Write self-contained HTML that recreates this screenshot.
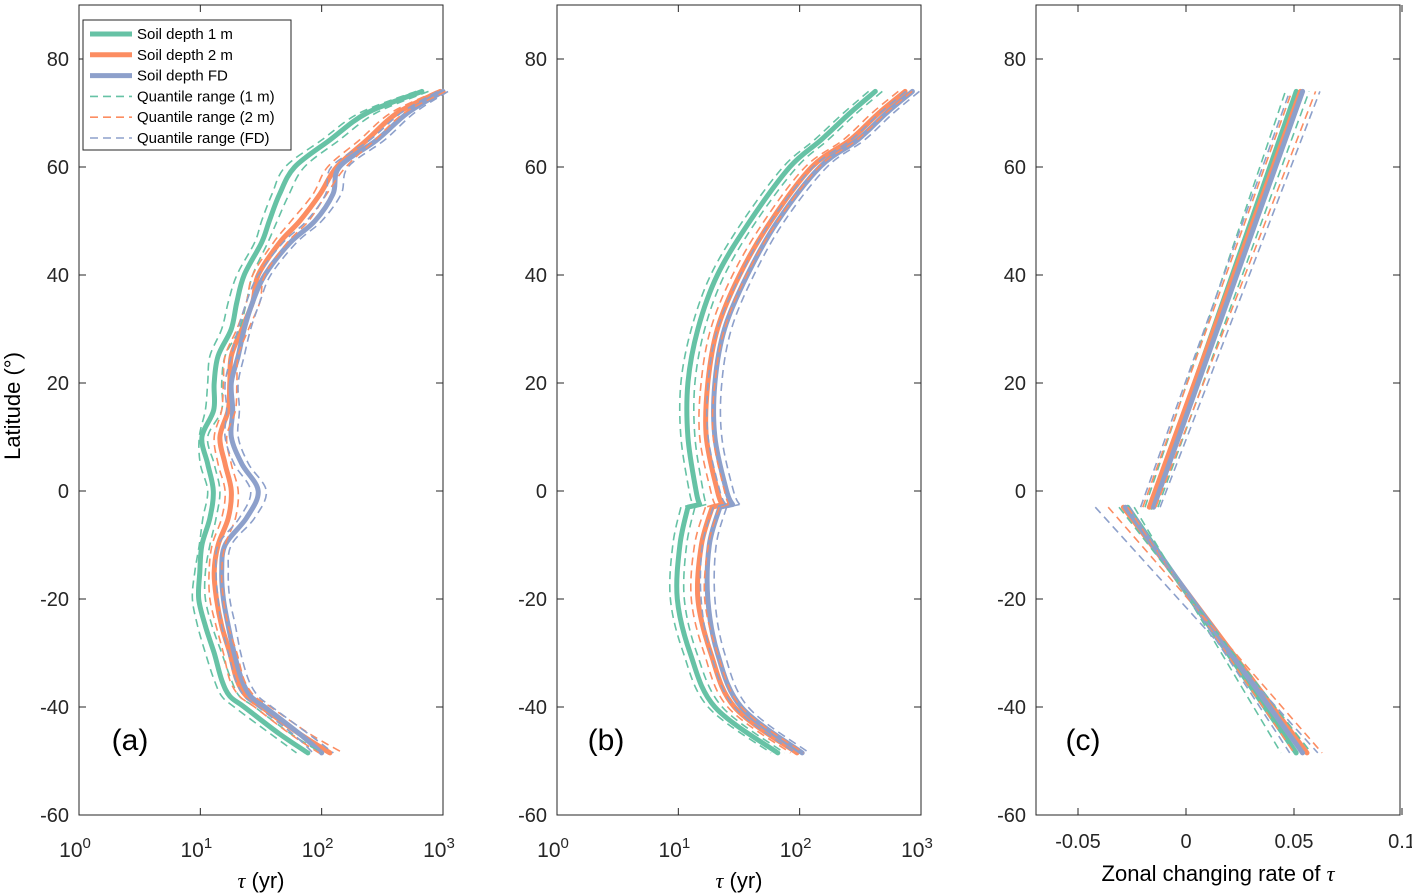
<!DOCTYPE html>
<html><head><meta charset="utf-8">
<style>
body{margin:0;background:#fff;}
svg{display:block;font-family:"Liberation Sans",Helvetica,sans-serif;}
</style></head>
<body>
<svg id="chart" width="1412" height="895" xmlns="http://www.w3.org/2000/svg"></svg>
<script>
// ---- data ----
const latA = [74,70,65,60,55,50,46,40,35,30,25,20,15,10,5,0,-5,-10,-15,-20,-25,-30,-35,-38,-40,-45,-48.5];
const aGreen = [670,236,117,60,45,37,32,23,20,18,14,13,12.9,10.3,11.5,12.8,12,10.3,9.9,9.7,11,13,15,17.5,23,45,77];
const aOrange = [950,420,236,133,97,66,45,30,27,22,18,17.5,17,14.5,16,18,17,14,13,13.6,15,17.5,20,24,32,66,117];
const aBlue = [1000,510,285,140,124,88,55,34,27,23,20.5,18,18.5,18,22,30,24,16,15,15.5,17,19,22,26,34,66,100];
const aGreenLo = [600,205,100,50,39,32,28,20,17,15,12,11.5,11,9.8,10,11.5,10.5,9.8,9,8.6,9.5,11,13,15,19,38,62];
const aGreenHi = [760,280,140,72,54,43,36,27,24,21,16,15,15,11.5,13,14.5,13.5,12,11,11,12.5,15,18,21,28,56,100];
const aOrangeLo = [880,370,205,112,85,56,40,27,24,20,16,15.5,15,13,14,16,15,12.5,11.8,12,13.5,15.5,17.5,21,28,55,95];
const aOrangeHi = [1050,480,275,158,110,78,52,34,31,25,20.5,20,19.5,16.5,18,20.5,19.5,16,15,15.5,17,20,23,28,38,80,150];
const aBlueLo = [900,450,250,120,108,75,48,30,24,20.5,18,16,16.5,16,19,26,21,14,13.5,14,15,17,19.5,23,30,58,85];
const aBlueHi = [1100,580,330,165,145,100,62,38,31,26,23,20.5,21,20.5,25,35,28,18,17,17.5,19.5,21.5,25,30,39,78,125];

const latB = [74,70,65,60,50,40,30,20,10,0,-2.5,-3,-10,-20,-30,-40,-48.5];
const bGreen = [420,260,150,83,39,21,14.5,12,12,14,15,12,10.3,9.8,12.5,20,66];
const bOrange = [740,450,260,126,58,32,21,17.5,17,21,23,19,15.5,14.5,18.5,29,95];
const bBlue = [850,520,300,147,66,37,24,20,20,25,28,22,18,17.5,21,33,105];
const bGreenLo = [370,230,132,73,34,18.5,12.8,10.5,10.5,12.3,13.2,10.5,9,8.6,11,17.6,58];
const bGreenHi = [480,296,171,95,44,24,16.5,13.7,13.7,16,17,13.7,11.7,11.2,14.2,23,75];
const bOrangeLo = [650,395,228,111,51,28,18.5,15.4,15,18.5,20,16.7,13.6,12.8,16.3,25.5,84];
const bOrangeHi = [845,513,296,144,66,36.5,24,20,19.4,24,26,21.7,17.7,16.5,21,33,108];
const bBlueLo = [750,458,264,129,58,32.5,21,17.6,17.6,22,24.6,19.4,15.8,15.4,18.5,29,92];
const bBlueHi = [970,593,342,168,75,42,27.4,22.8,22.8,28.5,32,25,20.5,20,24,37.6,120];

const latCN = [-3,74];
const latCS = [-3,-48.5];
const cGreenN = [-0.016,0.051], cGreenS = [-0.027,0.051];
const cOrangeN = [-0.017,0.053], cOrangeS = [-0.029,0.056];
const cBlueN = [-0.015,0.054], cBlueS = [-0.028,0.054];
const cGreenNLo = [-0.019,0.046], cGreenNHi = [-0.013,0.057];
const cOrangeNLo = [-0.020,0.049], cOrangeNHi = [-0.014,0.060];
const cBlueNLo = [-0.021,0.048], cBlueNHi = [-0.012,0.062];
const cGreenSLo = [-0.024,0.044], cGreenSHi = [-0.031,0.058];
const cOrangeSLo = [-0.027,0.050], cOrangeSHi = [-0.036,0.063];
const cBlueSLo = [-0.026,0.048], cBlueSHi = [-0.042,0.061];

const yTicks = [80,60,40,20,0,-20,-40,-60];
const logTicks = [0,1,2,3];
const cTicks = [-0.05,0,0.05,0.1];
const cTickLabels = ["-0.05","0","0.05","0.1"];

// ---- layout ----
const NS = "http://www.w3.org/2000/svg";
const svg = document.getElementById('chart');
const TOP = 5, BOT = 815;
const yS = lat => 491 - lat * 5.4;
const GREEN = "#66c2a5", ORANGE = "#fc8d62", BLUE = "#8da0cb";
function mk(tag, attrs, parent) {
  const e = document.createElementNS(NS, tag);
  for (const k in attrs) e.setAttribute(k, attrs[k]);
  (parent || svg).appendChild(e);
  return e;
}
function logX(x0) { return v => x0 + Math.log10(v) * 121.33; }
function linX(v) { return 1186 + v * 2160; }

function axes(x0, x1, name) {
  const g = mk('g', {});
  
  
  mk('rect', {x: x0, y: TOP, width: x1 - x0, height: BOT - TOP, fill: 'none', stroke: '#262626', 'stroke-width': 1}, g);
  yTicks.forEach(t => {
    const y = yS(t);
    mk('line', {x1: x0, x2: x0 + 7, y1: y, y2: y, stroke: '#262626'}, g);
    mk('line', {x1: x1, x2: x1 - 7, y1: y, y2: y, stroke: '#262626'}, g);
    const tx = mk('text', {x: x0 - 10, y: y + 7, 'text-anchor': 'end', 'font-size': 20, fill: '#262626'}, g);
    tx.textContent = t;
    
    
  });
  return g;
}
function logAxis(x0, g) {
  const xs = logX(x0);
  logTicks.forEach(p => {
    const x = xs(Math.pow(10, p));
    mk('line', {x1: x, x2: x, y1: BOT, y2: BOT - 7, stroke: '#262626'}, g);
    mk('line', {x1: x, x2: x, y1: TOP, y2: TOP + 7, stroke: '#262626'}, g);
    const t = mk('text', {x: x - 4, y: 857, 'text-anchor': 'middle', 'font-size': 21, fill: '#262626'}, g);
    
    
    t.appendChild(document.createTextNode('10'));
    const s = mk('tspan', {dy: -9, 'font-size': 15}, t);
    s.textContent = p;
  });
}
function smoothPath(P) {
  let d = 'M' + P[0][0].toFixed(1) + ',' + P[0][1].toFixed(1);
  for (let i = 0; i < P.length - 1; i++) {
    const p0 = P[Math.max(0, i - 1)], p1 = P[i], p2 = P[i + 1], p3 = P[Math.min(P.length - 1, i + 2)];
    const c1 = [p1[0] + (p2[0] - p0[0]) / 6, p1[1] + (p2[1] - p0[1]) / 6];
    const c2 = [p2[0] - (p3[0] - p1[0]) / 6, p2[1] - (p3[1] - p1[1]) / 6];
    d += ' C' + c1.map(v => v.toFixed(1)).join(',') + ' ' + c2.map(v => v.toFixed(1)).join(',') + ' ' + p2[0].toFixed(1) + ',' + p2[1].toFixed(1);
  }
  return d;
}
function line(xs, vals, lats, color, dashed, name) {
  const P = vals.map((v, i) => [xs(v), yS(lats[i])]);
  // split at latitude discontinuities (gap < 1 degree)
  let d = '', seg = [P[0]];
  for (let i = 1; i < P.length; i++) {
    if (Math.abs(lats[i] - lats[i - 1]) < 1) { d += smoothPath(seg) + ' '; seg = [P[i - 1], P[i]]; d += smoothPath(seg) + ' '; seg = [P[i]]; }
    else seg.push(P[i]);
  }
  d += smoothPath(seg);
  const p = mk('path', {d: d, fill: 'none', stroke: color,
    'stroke-width': dashed ? 1.6 : 5, 'stroke-linejoin': 'round', 'stroke-linecap': dashed ? 'butt' : 'round',
    'stroke-dasharray': dashed ? '8,5' : 'none'});
  
  
}

// panel a
const gA = axes(79, 443, 'panel-a'); logAxis(79, gA);
const xa = logX(79);
line(xa, aGreen, latA, GREEN, false, 'a-line-1m');
line(xa, aOrange, latA, ORANGE, false, 'a-line-2m');
line(xa, aBlue, latA, BLUE, false, 'a-line-fd');
line(xa, aGreenLo, latA, GREEN, true, 'a-q-1m-low');
line(xa, aGreenHi, latA, GREEN, true, 'a-q-1m-high');
line(xa, aOrangeLo, latA, ORANGE, true, 'a-q-2m-low');
line(xa, aOrangeHi, latA, ORANGE, true, 'a-q-2m-high');
line(xa, aBlueLo, latA, BLUE, true, 'a-q-fd-low');
line(xa, aBlueHi, latA, BLUE, true, 'a-q-fd-high');

// panel b
const gB = axes(557, 921, 'panel-b'); logAxis(557, gB);
const xb = logX(557);
line(xb, bGreen, latB, GREEN, false, 'b-line-1m');
line(xb, bOrange, latB, ORANGE, false, 'b-line-2m');
line(xb, bBlue, latB, BLUE, false, 'b-line-fd');
line(xb, bGreenLo, latB, GREEN, true, 'b-q-1m-low');
line(xb, bGreenHi, latB, GREEN, true, 'b-q-1m-high');
line(xb, bOrangeLo, latB, ORANGE, true, 'b-q-2m-low');
line(xb, bOrangeHi, latB, ORANGE, true, 'b-q-2m-high');
line(xb, bBlueLo, latB, BLUE, true, 'b-q-fd-low');
line(xb, bBlueHi, latB, BLUE, true, 'b-q-fd-high');

// panel c
const gC = axes(1036, 1400, 'panel-c');
cTicks.forEach((v, i) => {
  const x = linX(v);
  mk('line', {x1: x, x2: x, y1: BOT, y2: BOT - 7, stroke: '#262626'}, gC);
  mk('line', {x1: x, x2: x, y1: TOP, y2: TOP + 7, stroke: '#262626'}, gC);
  const t = mk('text', {x: x, y: 848, 'text-anchor': 'middle', 'font-size': 20, fill: '#262626'}, gC);
  t.textContent = cTickLabels[i];
  
  
});
[[cGreenN, latCN, GREEN, false, 'c-line-1m-north'], [cGreenS, latCS, GREEN, false, 'c-line-1m-south'],
 [cOrangeN, latCN, ORANGE, false, 'c-line-2m-north'], [cOrangeS, latCS, ORANGE, false, 'c-line-2m-south'],
 [cBlueN, latCN, BLUE, false, 'c-line-fd-north'], [cBlueS, latCS, BLUE, false, 'c-line-fd-south'],
 [cGreenNLo, latCN, GREEN, true, 'c-q-1m-north-low'], [cGreenNHi, latCN, GREEN, true, 'c-q-1m-north-high'],
 [cOrangeNLo, latCN, ORANGE, true, 'c-q-2m-north-low'], [cOrangeNHi, latCN, ORANGE, true, 'c-q-2m-north-high'],
 [cBlueNLo, latCN, BLUE, true, 'c-q-fd-north-low'], [cBlueNHi, latCN, BLUE, true, 'c-q-fd-north-high'],
 [cGreenSLo, latCS, GREEN, true, 'c-q-1m-south-low'], [cGreenSHi, latCS, GREEN, true, 'c-q-1m-south-high'],
 [cOrangeSLo, latCS, ORANGE, true, 'c-q-2m-south-low'], [cOrangeSHi, latCS, ORANGE, true, 'c-q-2m-south-high'],
 [cBlueSLo, latCS, BLUE, true, 'c-q-fd-south-low'], [cBlueSHi, latCS, BLUE, true, 'c-q-fd-south-high']
].forEach(s => line(linX, s[0], s[1], s[2], s[3], s[4]));

// labels
function txt(x, y, s, size, name, extra) {
  const t = mk('text', Object.assign({x: x, y: y, 'font-size': size, fill: '#000', 'text-anchor': 'middle'}, extra || {}));
  t.textContent = s;
  
  
  return t;
}
txt(130, 750, '(a)', 30, 'panel-label-a');
txt(606, 750, '(b)', 30, 'panel-label-b');
txt(1083, 750, '(c)', 30, 'panel-label-c');
txt(0, 0, 'Latitude (°)', 22, 'y-axis-title', {transform: 'translate(20,406) rotate(-90)'});
const xt1 = txt(261, 888, '', 22, 'x-axis-title-a');
xt1.innerHTML = '<tspan font-family="Liberation Serif" font-style="italic">τ</tspan> (yr)';
const xt2 = txt(739, 888, '', 22, 'x-axis-title-b');
xt2.innerHTML = '<tspan font-family="Liberation Serif" font-style="italic">τ</tspan> (yr)';
const xt3 = txt(1218, 881, '', 22, 'x-axis-title-c');
xt3.innerHTML = 'Zonal changing rate of <tspan font-family="Liberation Serif" font-style="italic">τ</tspan>';

// legend
const lg = mk('g', {});


mk('rect', {x: 83, y: 20, width: 208, height: 130, fill: '#fff', stroke: '#262626', 'stroke-width': 1}, lg);
const legItems = [['Soil depth 1 m', GREEN, false], ['Soil depth 2 m', ORANGE, false], ['Soil depth FD', BLUE, false],
  ['Quantile range (1 m)', GREEN, true], ['Quantile range (2 m)', ORANGE, true], ['Quantile range (FD)', BLUE, true]];
legItems.forEach((it, i) => {
  const y = 34 + i * 20.8;
  const l = mk('line', {x1: 90, x2: 132, y1: y, y2: y, stroke: it[1], 'stroke-width': it[2] ? 1.6 : 5,
    'stroke-dasharray': it[2] ? '8,5' : 'none'}, lg);
  
  
  const t = mk('text', {x: 137, y: y + 5, 'font-size': 15, fill: '#000'}, lg);
  t.textContent = it[0];
  
  
});
</script>
</body></html>
